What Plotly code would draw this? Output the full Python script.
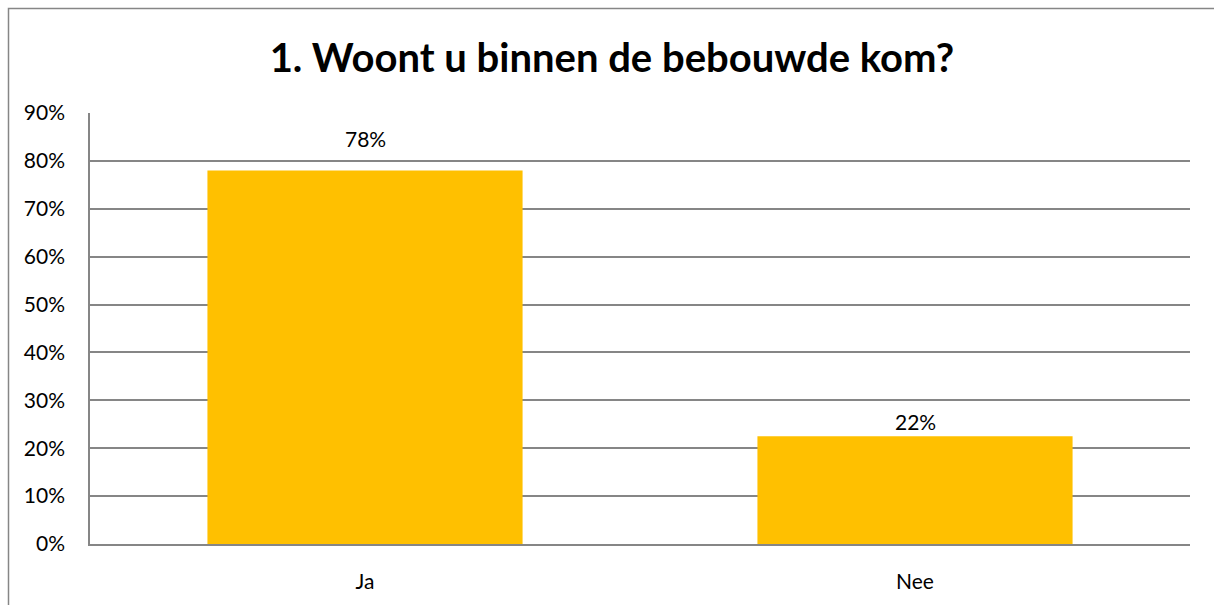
import plotly.graph_objects as go

categories = ["Ja", "Nee"]
values = [0.78, 0.225]
labels = ["78%", "22%"]
tick_vals = [0, 0.1, 0.2, 0.3, 0.4, 0.5, 0.6, 0.7, 0.8, 0.9]
tick_text = ["0%", "10%", "20%", "30%", "40%", "50%", "60%", "70%", "80%", "90%"]
label_shift = [17, 0]

W, H = 1214, 605
L, R, T, B = 90, 24, 113, 57
pw, ph = W - L - R, H - T - B

fig = go.Figure()
fig.add_trace(go.Bar(x=categories, y=values, marker=dict(color="#FFC000", line=dict(width=0)),
                     hoverinfo="skip"))

for c, v, t, s in zip(categories, values, labels, label_shift):
    fig.add_annotation(x=c, y=v, text=t, showarrow=False, yanchor="bottom", yshift=s,
                       font=dict(family="Lato, Carlito, sans-serif", size=21, color="#000000"))

# figure border
fig.add_shape(type="rect", xref="paper", yref="paper",
              x0=(8.5 - L) / pw, x1=(W + 20 - L) / pw,
              y0=-(H + 20 - T - ph) / ph, y1=1 + (T - 7.5) / ph,
              line=dict(color="#868686", width=1.5), fillcolor="rgba(0,0,0,0)", layer="below")

fig.update_layout(
    width=W, height=H,
    margin=dict(l=L, r=R, t=T, b=B),
    paper_bgcolor="white", plot_bgcolor="white",
    bargap=0.427,
    showlegend=False,
    title=dict(text="<b>1. Woont u binnen de bebouwde kom?</b>", x=0.504, xanchor="center",
               y=1 - 58 / H, yanchor="middle",
               font=dict(family="Lato, Carlito, sans-serif", size=40, color="#000000")),
    font=dict(family="Lato, Carlito, sans-serif", size=21, color="#000000"),
)
fig.update_yaxes(range=[0, 0.9], tickvals=tick_vals, ticktext=tick_text,
                 showgrid=True, gridcolor="#868686", gridwidth=1.5,
                 showline=True, linecolor="#868686", linewidth=1.5,
                 zeroline=False, ticks="", ticklabelstandoff=19, fixedrange=True)
fig.update_xaxes(showline=True, linecolor="#868686", linewidth=1.5, ticks="",
                 ticklabelstandoff=18, showgrid=False, fixedrange=True)

fig.write_html("out.html", config={"displayModeBar": False},
               post_script="document.body.style.margin='0';document.body.style.overflow='hidden';")
